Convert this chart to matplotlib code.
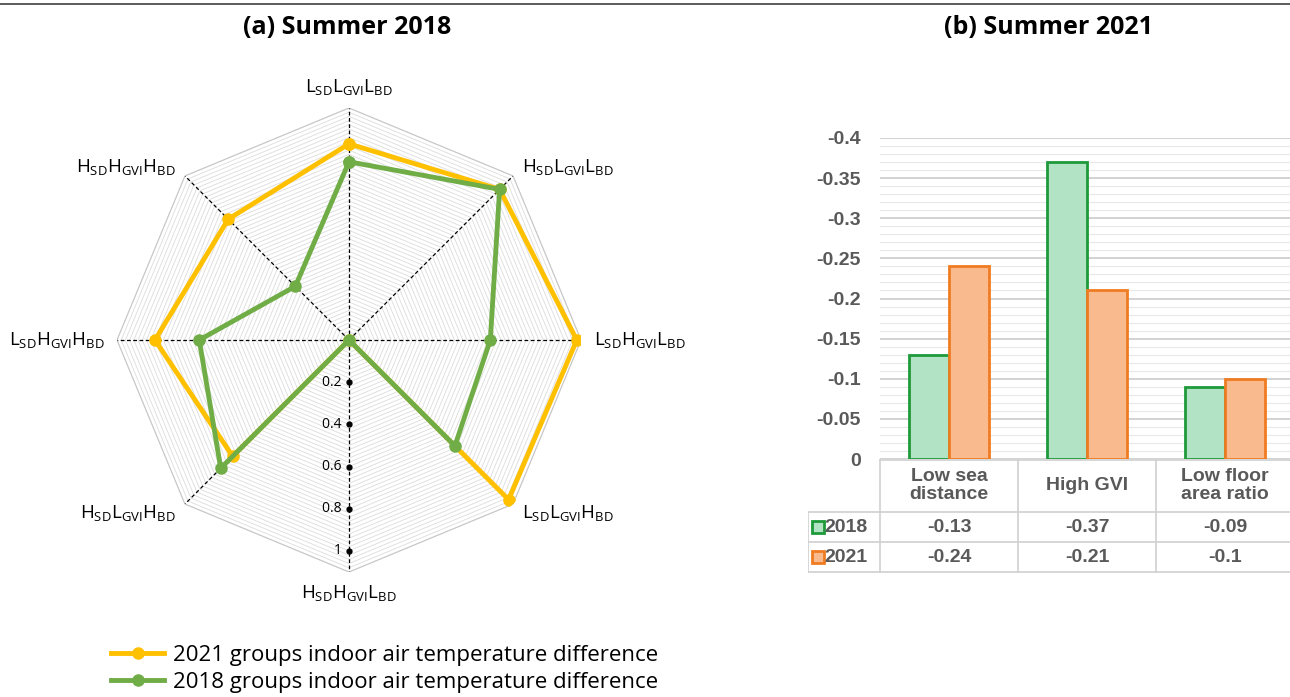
import numpy as np
import matplotlib.pyplot as plt

plt.rcParams['font.family'] = ['Open Sans', 'DejaVu Sans']
plt.rcParams['mathtext.default'] = 'regular'

W, H = 1290, 697

# radar data (clockwise from top)
groups = [r'$L_{SD}L_{GVI}L_{BD}$', r'$H_{SD}L_{GVI}L_{BD}$', r'$L_{SD}H_{GVI}L_{BD}$',
          r'$L_{SD}L_{GVI}H_{BD}$', r'$H_{SD}H_{GVI}L_{BD}$', r'$H_{SD}L_{GVI}H_{BD}$',
          r'$L_{SD}H_{GVI}H_{BD}$', r'$H_{SD}H_{GVI}H_{BD}$']
diff_2021 = [0.93, 1.01, 1.08, 1.07, 0.0, 0.78, 0.92, 0.81]
diff_2018 = [0.845, 1.01, 0.67, 0.71, 0.0, 0.86, 0.71, 0.36]
r_ticks = [0.2, 0.4, 0.6, 0.8, 1.0]
r_tick_labels = ['0.2', '0.4', '0.6', '0.8', '1']

# bar data
factors = ['Low sea\ndistance', 'High GVI', 'Low floor\narea ratio']
coef_2018 = [-0.13, -0.37, -0.09]
coef_2021 = [-0.24, -0.21, -0.1]
y_ticks = [0, -0.05, -0.1, -0.15, -0.2, -0.25, -0.3, -0.35, -0.4]
y_tick_labels = ['0', '-0.05', '-0.1', '-0.15', '-0.2', '-0.25', '-0.3', '-0.35', '-0.4']

YELLOW = '#FFC000'
GREEN = '#70AD47'


def rect(x0, y0, x1, y1):
    return [x0 / W, 1 - y1 / H, (x1 - x0) / W, (y1 - y0) / H]


fig = plt.figure(figsize=(W / 100, H / 100), dpi=100)

# top rule and titles
fig.add_artist(plt.Line2D([0, 1], [1 - 4 / H, 1 - 4 / H], color='#404040', lw=1.2))
fig.text(347 / W, 1 - 28 / H, '(a) Summer 2018', ha='center', va='center',
         fontsize=18, fontweight='bold')
fig.text(1048 / W, 1 - 28 / H, '(b) Summer 2021', ha='center', va='center',
         fontsize=18, fontweight='bold')

# ---- radar ----
R = 1.1
cx, cy, rp = 349, 340, 232
ax = fig.add_axes(rect(cx - rp, cy - rp, cx + rp, cy + rp), projection='polar')
ax.set_theta_offset(np.pi / 2)
ax.set_theta_direction(-1)
ax.set_ylim(0, R)
ax.grid(False)
ax.spines['polar'].set_visible(False)
ax.set_xticks([])
ax.set_yticks([])
ax.patch.set_alpha(0)

n = len(groups)
theta = np.arange(n) * 2 * np.pi / n
theta_c = np.append(theta, theta[0])

for rr in np.arange(0.02, R + 0.001, 0.02):
    ax.plot(theta_c, [rr] * (n + 1), color='#dcdcdc', lw=0.6, zorder=1)
ax.plot(theta_c, [R] * (n + 1), color='#c8c8c8', lw=0.8, zorder=1)
for t in theta:
    ax.plot([t, t], [0, R], color='black', lw=0.9, ls=(0, (3, 2)), zorder=2)

ax.plot(theta_c, diff_2021 + diff_2021[:1], color=YELLOW, lw=3.5, marker='o', ms=8,
        zorder=3, label='2021 groups indoor air temperature difference')
ax.plot(theta_c, diff_2018 + diff_2018[:1], color=GREEN, lw=3.5, marker='o', ms=8,
        zorder=4, label='2018 groups indoor air temperature difference')

ax.plot([np.pi] * len(r_ticks), r_ticks, 'o', color='black', ms=3.5, zorder=5)
for rv, lab in zip(r_ticks, r_tick_labels):
    ax.text(np.pi, rv, lab + '  ', ha='right', va='center', fontsize=10, zorder=5)

for t, g in zip(theta, groups):
    deg = np.degrees(t) % 360
    if deg == 0 or deg == 180:
        ax.text(t, 1.2, g, ha='center', va='center', fontsize=13.5)
    elif deg < 180:
        ax.text(t, 1.16, g, ha='left', va='center', fontsize=13.5)
    else:
        ax.text(t, 1.16, g, ha='right', va='center', fontsize=13.5)

fig.legend(loc='upper left', bbox_to_anchor=(100 / W, 1 - 634 / H), frameon=False,
           fontsize=16, handlelength=2.4, handletextpad=0.4, labelspacing=0.25,
           borderpad=0)

# ---- bar chart ----
GRAY = '#595959'
x0b, x1b = 880, 1294
bx = fig.add_axes(rect(x0b, 138, x1b, 459))
x = np.arange(len(factors))
bw = 0.29
bx.bar(x - bw / 2, coef_2018, bw, color='#b3e3c5', edgecolor='#1e9a3a', lw=2, zorder=3,
       label='2018')
bx.bar(x + bw / 2, coef_2021, bw, color='#f9bb8d', edgecolor='#f07c22', lw=2, zorder=3,
       label='2021')
bx.set_xlim(-0.5, 2.5)
bx.set_ylim(0, -0.4)
bx.set_yticks(y_ticks)
bx.set_yticklabels(y_tick_labels, family='Liberation Sans', fontweight='bold',
                   fontsize=14, color=GRAY)
bx.set_yticks(np.arange(0, -0.4001, -0.01), minor=True)
bx.tick_params(axis='y', which='both', length=0, pad=14)
bx.set_xticks([])
bx.grid(axis='y', which='major', color='#cfcfcf', lw=1.3, zorder=0)
bx.grid(axis='y', which='minor', color='#e8e8e8', lw=0.8, zorder=0)
for s in bx.spines.values():
    s.set_visible(False)

# ---- data table under the bars ----
tx = fig.add_axes(rect(808, 459, x1b, 573))
unit = (x1b - x0b) / 3.0
left = -0.5 - (x0b - 808) / unit
tx.set_xlim(left, 2.5)
tx.set_ylim(114, 0)
tx.axis('off')
lc = '#d0d0d0'
hdr, r1, r2 = 53, 83, 113
tx.plot([-0.5, 2.5], [0.5, 0.5], color=lc, lw=1.2)
for yy in (hdr, r1, r2):
    tx.plot([left, 2.5], [yy, yy], color=lc, lw=1.2)
for xx in (-0.5, 0.5, 1.5):
    tx.plot([xx, xx], [0, r2], color=lc, lw=1.2)
tx.plot([left, left], [hdr, r2], color=lc, lw=1.2)

tkw = dict(family='Liberation Sans', fontweight='bold', fontsize=14, color=GRAY,
           ha='center', va='center')
for i, f in enumerate(factors):
    tx.text(i, hdr / 2, f, linespacing=1.05, **tkw)
    tx.text(i, (hdr + r1) / 2, f'{coef_2018[i]:g}', **tkw)
    tx.text(i, (r1 + r2) / 2, f'{coef_2021[i]:g}', **tkw)

for yc, year, fc, ec in [((hdr + r1) / 2, '2018', '#b3e3c5', '#1e9a3a'),
                         ((r1 + r2) / 2, '2021', '#f9bb8d', '#f07c22')]:
    tx.plot([left + 0.07], [yc], marker='s', ms=8, mfc=fc, mec=ec, mew=2)
    tx.text(left + 0.12, yc, year, family='Liberation Sans', fontweight='bold',
            fontsize=14, color=GRAY, ha='left', va='center')

fig.savefig('out.png', dpi=100)
